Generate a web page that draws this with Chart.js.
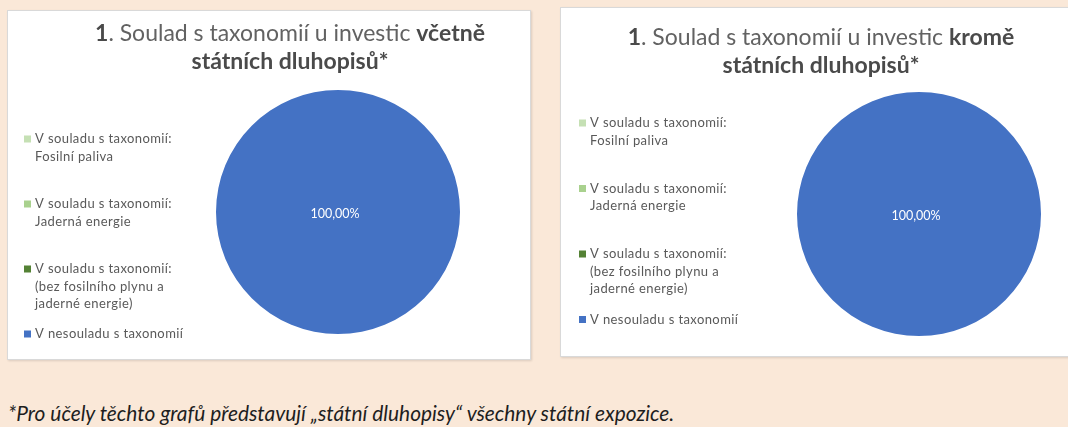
<!DOCTYPE html>
<html lang="cs">
<head>
<meta charset="utf-8">
<script src="https://cdn.jsdelivr.net/npm/chart.js@4.4.1/dist/chart.umd.min.js"></script>
<style>
  html, body { margin: 0; padding: 0; }
  body {
    width: 1068px; height: 427px; overflow: hidden; position: relative;
    background: #fae8d8; font-family: Lato, 'Open Sans', sans-serif;
  }
  .panel {
    position: absolute; background: #fff; border: 1px solid #d9d9d9;
    box-shadow: 1px 1px 2px rgba(0, 0, 0, 0.12); box-sizing: border-box;
  }
  .panel canvas { position: absolute; left: 0; top: 0; }
  .title {
    position: absolute; text-align: center; color: #626262;
    font-size: 23px; line-height: 28px; white-space: nowrap;
  }
  .title b { color: #4a4a4a; font-weight: 700; }
  .note {
    position: absolute; left: 8px; top: 400px; font-style: italic;
    font-size: 20.9px; line-height: 26px; color: #1e1e1e; white-space: nowrap;
  }
</style>
</head>
<body>
<div class="panel" id="p1" style="left:7px; top:10px; width:524px; height:350px;">
  <canvas id="chartIncl" width="524" height="350"></canvas>
  <div class="title" style="left:0; top:7px; width:564px;"><b>1</b>. Soulad s taxonomií u investic <b>včetně</b><br><b>státních dluhopisů*</b></div>
</div>
<div class="panel" id="p2" style="left:560px; top:7px; width:520px; height:350px;">
  <canvas id="chartExcl" width="520" height="350"></canvas>
  <div class="title" style="left:0; top:14px; width:520px;"><b>1</b>. Soulad s taxonomií u investic <b>kromě</b><br><b>státních dluhopisů*</b></div>
</div>
<div class="note">*Pro účely těchto grafů představují „státní dluhopisy“ všechny státní expozice.</div>

<script>
'use strict';

// legend categories (each entry split into its printed lines)
const categories = [
  ['V souladu s taxonomií:', 'Fosilní paliva'],
  ['V souladu s taxonomií:', 'Jaderná energie'],
  ['V souladu s taxonomií:', '(bez fosilního plynu a', 'jaderné energie)'],
  ['V nesouladu s taxonomií'],
];

// shares in percent
const valuesInclGov = [0, 0, 0, 100];
const valuesExclGov = [0, 0, 0, 100];

const sliceColors = ['#c5e0b4', '#a9d18e', '#548235', '#4472c4'];

function formatPct(v) {
  return v.toFixed(2).replace('.', ',') + '%';
}

// Excel-style legend drawn on the left of the chart
const sideLegend = {
  id: 'sideLegend',
  afterDraw(chart, args, opts) {
    const ctx = chart.ctx;
    const labels = chart.data.labels;
    const colors = chart.data.datasets[0].backgroundColor;
    ctx.save();
    ctx.font = '13px Lato, "Open Sans", sans-serif';
    ctx.letterSpacing = '0.4px';
    ctx.textBaseline = 'middle';
    labels.forEach((lines, i) => {
      const y = opts.startY + i * opts.gap;
      ctx.fillStyle = colors[i];
      ctx.fillRect(opts.x, y - 3.5, 7, 7);
      ctx.fillStyle = '#595959';
      lines.forEach((line, j) => {
        ctx.fillText(line, opts.x + 11, y + j * 17.5);
      });
    });
    ctx.restore();
  },
};

// value labels on the slices
const sliceLabels = {
  id: 'sliceLabels',
  afterDatasetsDraw(chart) {
    const ctx = chart.ctx;
    const meta = chart.getDatasetMeta(0);
    const data = chart.data.datasets[0].data;
    const total = data.reduce((a, b) => a + b, 0);
    ctx.save();
    ctx.font = '12.5px Lato, "Open Sans", sans-serif';
    ctx.fillStyle = '#ffffff';
    ctx.textAlign = 'center';
    ctx.textBaseline = 'middle';
    meta.data.forEach((arc, i) => {
      if (!data[i]) return;
      const pct = data[i] / total * 100;
      const pos = pct >= 99.99 ? { x: arc.x, y: arc.y } : arc.tooltipPosition();
      ctx.fillText(formatPct(pct), pos.x - 3, pos.y + 2);
    });
    ctx.restore();
  },
};

function createPie(canvas, values, padding, legend) {
  return new Chart(canvas, {
    type: 'pie',
    data: {
      labels: categories,
      datasets: [{
        data: values,
        backgroundColor: sliceColors,
        borderWidth: 0,
      }],
    },
    options: {
      responsive: false,
      animation: false,
      layout: { padding },
      plugins: {
        legend: { display: false },
        tooltip: { enabled: false },
        sideLegend: legend,
      },
    },
    plugins: [sideLegend, sliceLabels],
  });
}

createPie(
  document.getElementById('chartIncl'),
  valuesInclGov,
  { left: 208, right: 72, top: 79, bottom: 27 },
  { x: 16, startY: 128, gap: 65 }
);

createPie(
  document.getElementById('chartExcl'),
  valuesExclGov,
  { left: 236, right: 40, top: 84, bottom: 22 },
  { x: 18, startY: 115, gap: 65.5 }
);
</script>
</body>
</html>
